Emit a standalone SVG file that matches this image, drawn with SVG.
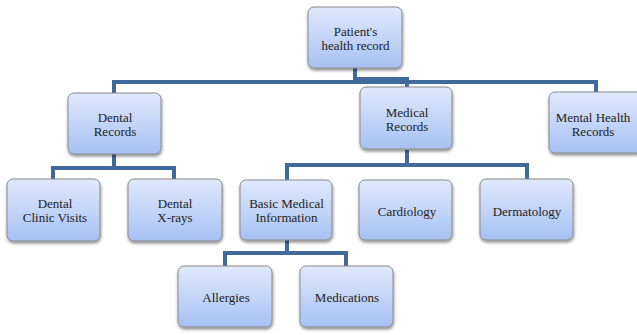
<svg xmlns="http://www.w3.org/2000/svg" width="637" height="335" viewBox="0 0 637 335">
<defs>
<linearGradient id="g" x1="0" y1="0" x2="0" y2="1">
<stop offset="0" stop-color="#e0e9fc"/>
<stop offset="1" stop-color="#a7c1f3"/>
</linearGradient>
<filter id="sh" x="-20%" y="-20%" width="140%" height="150%">
<feDropShadow dx="0.5" dy="2" stdDeviation="1.5" flood-color="#000" flood-opacity="0.45"/>
</filter>
</defs>
<style>
.box{fill:url(#g);stroke:#8a8a8a;stroke-width:1;filter:url(#sh)}
.t{font-family:"Liberation Serif","Times New Roman",serif;font-size:13px;fill:#222;text-anchor:middle}
.c{fill:none;stroke:#41699c;stroke-width:4;stroke-linejoin:miter;stroke-linecap:butt}
</style>
<rect width="637" height="335" fill="#fff"/>
<g id="connectors">
<path class="c" d="M355,68 V83"/>
<path class="c" d="M355,79 H407 V87"/>
<path class="c" d="M114,93 V82 H596 V92"/>
<path class="c" d="M114,154 V168"/>
<path class="c" d="M53,179 V168 H174 V179"/>
<path class="c" d="M407,150 V165"/>
<path class="c" d="M287,180 V165 H527 V179"/>
<path class="c" d="M287,240 V253"/>
<path class="c" d="M225,266 V253 H346 V266"/>
</g>
<g id="patient">
<rect class="box" x="308" y="7" width="94" height="61" rx="6"/>
<text class="t" x="355.5" y="36">Patient's</text>
<text class="t" x="355.5" y="50">health record</text>
</g>
<g id="dental">
<rect class="box" x="68" y="93" width="93" height="61" rx="6"/>
<text class="t" x="115" y="122">Dental</text>
<text class="t" x="115" y="136">Records</text>
</g>
<g id="medical">
<rect class="box" x="360" y="87" width="92" height="62" rx="6"/>
<text class="t" x="407" y="117">Medical</text>
<text class="t" x="407" y="131">Records</text>
</g>
<g id="mental">
<rect class="box" x="549" y="92" width="94" height="61" rx="6"/>
<text class="t" x="593" y="121.5">Mental Health</text>
<text class="t" x="593" y="135.5">Records</text>
</g>
<g id="clinic">
<rect class="box" x="7" y="179" width="93" height="62" rx="6"/>
<text class="t" x="55" y="208">Dental</text>
<text class="t" x="55" y="222">Clinic Visits</text>
</g>
<g id="xrays">
<rect class="box" x="128" y="179" width="94" height="62" rx="6"/>
<text class="t" x="175" y="208">Dental</text>
<text class="t" x="175" y="222">X-rays</text>
</g>
<g id="basic">
<rect class="box" x="240" y="180" width="92" height="60" rx="6"/>
<text class="t" x="286.5" y="208">Basic Medical</text>
<text class="t" x="286.5" y="222">Information</text>
</g>
<g id="cardiology">
<rect class="box" x="359" y="180" width="93" height="60" rx="6"/>
<text class="t" x="407" y="216">Cardiology</text>
</g>
<g id="dermatology">
<rect class="box" x="480" y="179" width="93" height="61" rx="6"/>
<text class="t" x="527" y="216">Dermatology</text>
</g>
<g id="allergies">
<rect class="box" x="178" y="266" width="94" height="61" rx="6"/>
<text class="t" x="226" y="302">Allergies</text>
</g>
<g id="medications">
<rect class="box" x="300" y="266" width="93" height="61" rx="6"/>
<text class="t" x="347" y="302">Medications</text>
</g>
</svg>
